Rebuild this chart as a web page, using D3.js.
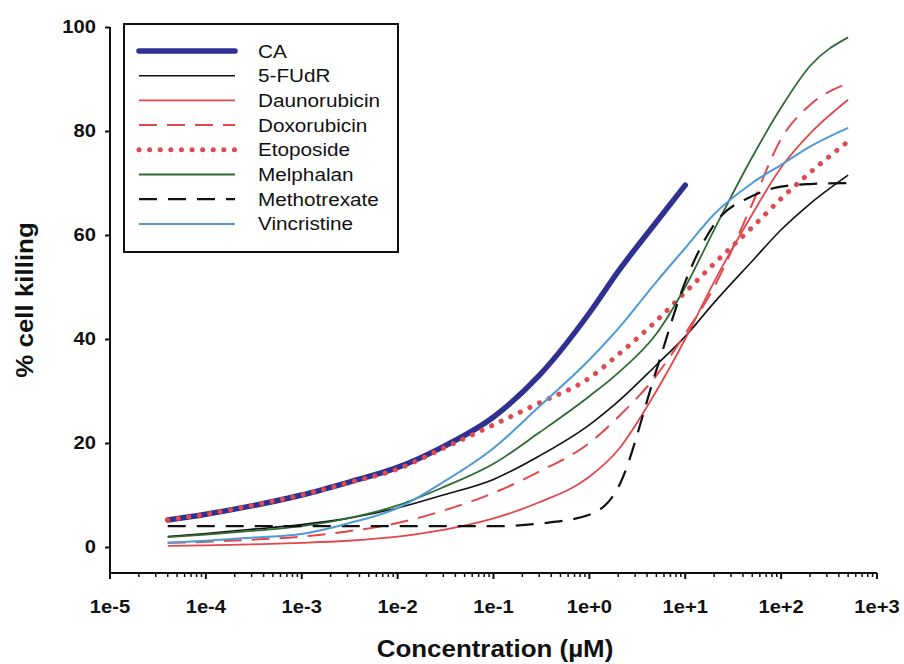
<!DOCTYPE html>
<html>
<head>
<meta charset="utf-8">
<script src="https://cdn.jsdelivr.net/npm/d3@7"></script>
<style>
  body { margin: 0; background: #fff; }
  svg { display: block; font-family: "Liberation Sans", Arial, sans-serif; }
  .tick-label { font-size: 18px; font-weight: bold; fill: #111; }
  .axis-title { font-size: 24px; font-weight: bold; fill: #111; }
  .legend-text { font-size: 18.5px; fill: #111; }
</style>
</head>
<body>
<div id="chart"></div>
<script>
// concentrations (µM) shared by every curve
const concentrations = [4e-5, 1e-4, 3e-4, 1e-3, 3e-3, 1e-2, 3e-2, 0.1, 0.3, 1, 2, 5, 10, 20, 50, 100, 200, 500];

// % cell killing per drug, null = not measured
const caValues           = [5.2, 6.3, 7.9, 10, 12.4, 15.3, 19.3, 25, 33, 45, 53, 62.5, 69.6, null, null, null, null, null];
const fudrValues         = [2.0, 2.6, 3.4, 4.3, 5.5, 7.5, 10, 13, 17.5, 23.5, 28, 35, 40.5, 47, 55, 61, 66, 71.5];
const daunorubicinValues = [0.2, 0.3, 0.5, 0.8, 1.2, 2, 3.3, 5.5, 8.6, 13.5, 18.7, 30, 40, 51, 64, 73, 79.5, 86];
const doxorubicinValues  = [0.8, 1.0, 1.4, 2, 3, 4.6, 7, 10.4, 14.5, 20, 25, 33, 41, 50, 66, 78.5, 85, 89.2];
const etoposideValues    = [5.2, 6.3, 8, 10, 12.3, 15, 19, 23.5, 27.7, 32.5, 37, 43.5, 49, 54.5, 61.5, 67, 72, 78];
const melphalanValues    = [1.9, 2.4, 3.1, 4, 5.5, 8, 11.5, 16, 22, 29, 33.5, 41, 50, 61, 75, 84.5, 92.5, 98];
const methotrexateValues = [4, 4, 4, 4, 4, 4, 4, 4, 4.5, 6.2, 11.5, 34, 51, 62, 67.5, 69.3, 69.8, 70];
const vincristineValues  = [0.8, 1.2, 1.8, 2.5, 4.5, 7.5, 12.5, 19, 27, 36, 42, 51, 57.5, 64, 70, 73.5, 77, 80.6];

const drugNames = ["CA", "5-FUdR", "Daunorubicin", "Doxorubicin", "Etoposide", "Melphalan", "Methotrexate", "Vincristine"];
const drugValues = [caValues, fudrValues, daunorubicinValues, doxorubicinValues, etoposideValues, melphalanValues, methotrexateValues, vincristineValues];

const yTicks = [0, 20, 40, 60, 80, 100];
const xTickLabels = ["1e-5", "1e-4", "1e-3", "1e-2", "1e-1", "1e+0", "1e+1", "1e+2", "1e+3"];

// line styles in legend order
const styles = [
  { color: "#2e3192", width: 5.5, dash: null, cap: "round" },
  { color: "#111111", width: 1.6, dash: null, cap: "butt" },
  { color: "#e2474b", width: 1.8, dash: null, cap: "butt" },
  { color: "#e2474b", width: 2, dash: "18,10", cap: "butt" },
  { color: "#de4a4f", width: 5, dash: "0.1,10.5", cap: "round" },
  { color: "#2f6a32", width: 1.8, dash: null, cap: "butt" },
  { color: "#111111", width: 2.2, dash: "18,11", cap: "butt" },
  { color: "#4f9ad6", width: 2, dash: null, cap: "butt" }
];

const width = 904, height = 664;
const plot = { left: 110, right: 877, top: 27, bottom: 573 };
const stretch = 1.12; // text in the source is a little wider than Arial

const svg = d3.select("#chart").append("svg")
  .attr("width", width).attr("height", height);

const x = d3.scaleLog().domain([1e-5, 1e3]).range([plot.left, plot.right]);
const y = d3.scaleLinear().domain([-5, 100]).range([plot.bottom, plot.top]);

// curves
const line = d3.line()
  .x(d => x(d.c))
  .y(d => y(d.v))
  .curve(d3.curveMonotoneX);

drugValues.forEach((vals, i) => {
  const s = styles[i];
  const pts = concentrations.map((c, j) => ({ c, v: vals[j] })).filter(d => d.v !== null);
  svg.append("path")
    .datum(pts)
    .attr("d", line)
    .attr("fill", "none")
    .attr("stroke", s.color)
    .attr("stroke-width", s.width)
    .attr("stroke-linecap", s.cap)
    .attr("stroke-dasharray", s.dash);
});

// y axis
const yAxis = svg.append("g")
  .attr("transform", `translate(${plot.left},0)`)
  .call(d3.axisLeft(y).tickValues(yTicks).tickSize(5).tickSizeOuter(0).tickPadding(9));
yAxis.select(".domain").attr("stroke", "#111").attr("stroke-width", 2)
  .attr("d", `M0,${plot.bottom}V${plot.top}`);
yAxis.selectAll(".tick line").attr("stroke", "#111").attr("stroke-width", 2);
yAxis.selectAll(".tick text")
  .attr("class", "tick-label")
  .attr("font-size", null).attr("font-family", null)
  .attr("transform", `scale(${stretch},1)`)
  .attr("x", -14 / stretch);

// x axis: decades plus minor ticks
const decades = d3.range(-5, 4).map(e => Math.pow(10, e));
const minors = [];
decades.slice(0, -1).forEach(d => { for (let k = 2; k <= 9; k++) minors.push(d * k); });

const xAxis = svg.append("g").attr("transform", `translate(0,${plot.bottom})`);
xAxis.append("line")
  .attr("x1", plot.left - 1).attr("x2", plot.right)
  .attr("stroke", "#111").attr("stroke-width", 2);
xAxis.selectAll("line.minor").data(minors).enter().append("line")
  .attr("class", "minor")
  .attr("x1", d => x(d)).attr("x2", d => x(d))
  .attr("y1", 0).attr("y2", 4)
  .attr("stroke", "#111").attr("stroke-width", 1.5);
xAxis.selectAll("line.major").data(decades).enter().append("line")
  .attr("class", "major")
  .attr("x1", d => x(d)).attr("x2", d => x(d))
  .attr("y1", 0).attr("y2", 6)
  .attr("stroke", "#111").attr("stroke-width", 2);
xAxis.selectAll("text").data(decades).enter().append("text")
  .attr("class", "tick-label")
  .attr("transform", d => `translate(${x(d)},40) scale(${stretch},1)`)
  .attr("text-anchor", "middle")
  .text((d, i) => xTickLabels[i]);

// axis titles
svg.append("text").attr("class", "axis-title")
  .attr("transform", `translate(495,657) scale(1.08,1)`)
  .attr("text-anchor", "middle")
  .text("Concentration (µM)");
svg.append("text").attr("class", "axis-title")
  .attr("transform", `translate(33,${(y(-5) + y(100)) / 2}) rotate(-90) scale(1.08,1)`)
  .attr("text-anchor", "middle")
  .text("% cell killing");

// legend
const legend = svg.append("g").attr("transform", "translate(124,24)");
legend.append("rect")
  .attr("width", 274).attr("height", 228)
  .attr("fill", "#fff").attr("stroke", "#111").attr("stroke-width", 2);
drugNames.forEach((name, i) => {
  const s = styles[i];
  const ly = 27 + i * 24.7;
  legend.append("line")
    .attr("x1", 15).attr("x2", 111).attr("y1", ly).attr("y2", ly)
    .attr("stroke", s.color).attr("stroke-width", s.width)
    .attr("stroke-linecap", s.cap).attr("stroke-dasharray", s.dash);
  legend.append("text").attr("class", "legend-text")
    .attr("transform", `translate(134,${ly + 6.5}) scale(${stretch},1)`)
    .text(name);
});
</script>
</body>
</html>
